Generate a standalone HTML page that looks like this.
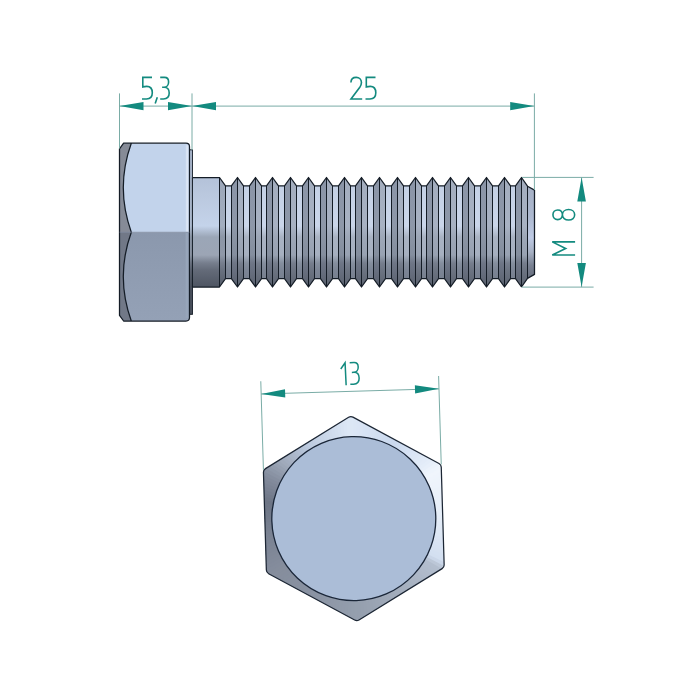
<!DOCTYPE html>
<html><head><meta charset="utf-8"><style>
html,body{margin:0;padding:0;background:#fff;width:700px;height:700px;overflow:hidden}
svg{display:block}
</style></head><body>
<svg width="700" height="700" viewBox="0 0 700 700">
<defs><linearGradient id="gShank" gradientUnits="userSpaceOnUse" x1="0" y1="177.5" x2="0" y2="287.0"><stop offset="0.0" stop-color="#b4c2d9"/><stop offset="0.1507" stop-color="#bac8de"/><stop offset="0.4429" stop-color="#c4d3ea"/><stop offset="0.5434" stop-color="#9ba6b7"/><stop offset="0.7078" stop-color="#9ca5b5"/><stop offset="0.7808" stop-color="#767e8d"/><stop offset="0.8447" stop-color="#646b79"/><stop offset="1.0" stop-color="#4e5562"/></linearGradient><linearGradient id="gRoot" gradientUnits="userSpaceOnUse" x1="0" y1="177.5" x2="0" y2="287.0"><stop offset="0.0" stop-color="#c0cde2"/><stop offset="0.1507" stop-color="#c6d2e6"/><stop offset="0.4429" stop-color="#cad6ea"/><stop offset="0.5434" stop-color="#a9b3c3"/><stop offset="0.7078" stop-color="#a6b0c0"/><stop offset="0.7808" stop-color="#858f9e"/><stop offset="0.8447" stop-color="#7c8595"/><stop offset="1.0" stop-color="#737c8a"/></linearGradient><linearGradient id="gLF" gradientUnits="userSpaceOnUse" x1="0" y1="177.5" x2="0" y2="287.0"><stop offset="0.0" stop-color="#8a94a6"/><stop offset="0.1507" stop-color="#8c96a8"/><stop offset="0.4429" stop-color="#8e98a9"/><stop offset="0.5434" stop-color="#8a94a4"/><stop offset="0.7078" stop-color="#848e9e"/><stop offset="0.7808" stop-color="#6e7686"/><stop offset="0.8447" stop-color="#687080"/><stop offset="1.0" stop-color="#5a616e"/></linearGradient><linearGradient id="gRF" gradientUnits="userSpaceOnUse" x1="0" y1="177.5" x2="0" y2="287.0"><stop offset="0.0" stop-color="#a2acbd"/><stop offset="0.1507" stop-color="#a5afc0"/><stop offset="0.4429" stop-color="#a8b2c3"/><stop offset="0.5434" stop-color="#9da7b7"/><stop offset="0.7078" stop-color="#98a2b2"/><stop offset="0.7808" stop-color="#767e8d"/><stop offset="0.8447" stop-color="#6c7482"/><stop offset="1.0" stop-color="#5c6370"/></linearGradient><linearGradient id="gEnd" gradientUnits="userSpaceOnUse" x1="0" y1="177.5" x2="0" y2="287.0"><stop offset="0" stop-color="#a3adc1"/><stop offset="0.35" stop-color="#adb9d0"/><stop offset="0.55" stop-color="#bfcbe5"/><stop offset="0.68" stop-color="#a7b1c4"/><stop offset="0.8" stop-color="#7a8293"/><stop offset="1" stop-color="#5a616e"/></linearGradient><linearGradient id="gCh" gradientUnits="userSpaceOnUse" x1="0" y1="177.5" x2="0" y2="287.0"><stop offset="0.0" stop-color="#9aa5b8"/><stop offset="0.1507" stop-color="#9ea9bb"/><stop offset="0.4429" stop-color="#a3aec0"/><stop offset="0.5434" stop-color="#8c96a6"/><stop offset="0.7078" stop-color="#8f98a8"/><stop offset="0.7808" stop-color="#767e8d"/><stop offset="0.8447" stop-color="#69717f"/><stop offset="1.0" stop-color="#555c69"/></linearGradient><clipPath id="cHead"><path d="M123.6,143.2 L186.0,143.2 Q189.5,143.2 189.5,146.7 L189.5,317.5 Q189.5,321.0 186.0,321.0 L123.6,321.0 L119.5,315.3 L119.5,148.8 Z"/></clipPath><linearGradient id="gLow" x1="0" y1="0" x2="0" y2="1"><stop offset="0" stop-color="#8b98ad"/><stop offset="1" stop-color="#94a1b6"/></linearGradient><linearGradient id="gHL" x1="0" y1="0" x2="1" y2="0"><stop offset="0" stop-color="#c2d3eb"/><stop offset="0.55" stop-color="#e0e9f7"/><stop offset="1" stop-color="#d0ddf0"/></linearGradient><clipPath id="cHex"><path d="M351.63,417.15 Q353.80,415.90 355.97,417.15 L440.58,466.00 Q442.74,467.25 442.74,469.75 L442.74,567.45 Q442.74,569.95 440.58,571.20 L355.97,620.05 Q353.80,621.30 351.63,620.05 L267.02,571.20 Q264.86,569.95 264.86,567.45 L264.86,469.75 Q264.86,467.25 267.02,466.00 Z"/></clipPath></defs>
<g clip-path="url(#cHead)"><rect x="119.5" y="143.2" width="70.0" height="89.0" fill="#c2d3eb"/><rect x="119.5" y="232.2" width="70.0" height="88.80000000000001" fill="url(#gLow)"/><rect x="185.2" y="145.2" width="3.4" height="87.0" fill="url(#gHL)"/><rect x="185.6" y="232.2" width="2.6" height="85.80000000000001" fill="#97a5ba"/><path d="M119.5,143.2 L131.3,143.2 Q115.3,187.5 131.3,232.2 L119.5,232.2 Z" fill="#868b97"/><path d="M119.5,232.2 L131.3,232.2 Q115.3,276.4 131.3,321.0 L119.5,321.0 Z" fill="#717887"/><path d="M0,0 L118.5,0 L118.5,323.0 Z" fill="none"/></g><rect x="189.5" y="149.8" width="2.9" height="164.5" fill="url(#gShank)" stroke="#141c26" stroke-width="1"/><rect x="192.4" y="177.5" width="27.099999999999994" height="109.5" fill="url(#gShank)"/><path d="M219.5,177.5 L225.5,185.9 L225.5,278.6 L219.5,287.0 Z" fill="url(#gCh)"/><rect x="225.50" y="185.9" width="5.90" height="92.70000000000002" fill="url(#gRoot)"/><path d="M231.50,185.9 L237.50,177.5 L237.50,287.0 L231.50,278.6 Z" fill="url(#gLF)"/><path d="M237.50,177.5 L243.50,185.9 L243.50,278.6 L237.50,287.0 Z" fill="url(#gRF)"/><rect x="243.50" y="185.9" width="6.00" height="92.70000000000002" fill="url(#gRoot)"/><path d="M249.50,185.9 L255.50,177.5 L255.50,287.0 L249.50,278.6 Z" fill="url(#gLF)"/><path d="M255.50,177.5 L261.50,185.9 L261.50,278.6 L255.50,287.0 Z" fill="url(#gRF)"/><rect x="261.50" y="185.9" width="5.00" height="92.70000000000002" fill="url(#gRoot)"/><path d="M266.50,185.9 L272.50,177.5 L272.50,287.0 L266.50,278.6 Z" fill="url(#gLF)"/><path d="M272.50,177.5 L278.50,185.9 L278.50,278.6 L272.50,287.0 Z" fill="url(#gRF)"/><rect x="278.50" y="185.9" width="6.00" height="92.70000000000002" fill="url(#gRoot)"/><path d="M284.50,185.9 L290.50,177.5 L290.50,287.0 L284.50,278.6 Z" fill="url(#gLF)"/><path d="M290.50,177.5 L296.50,185.9 L296.50,278.6 L290.50,287.0 Z" fill="url(#gRF)"/><rect x="296.50" y="185.9" width="6.00" height="92.70000000000002" fill="url(#gRoot)"/><path d="M302.50,185.9 L308.50,177.5 L308.50,287.0 L302.50,278.6 Z" fill="url(#gLF)"/><path d="M308.50,177.5 L314.50,185.9 L314.50,278.6 L308.50,287.0 Z" fill="url(#gRF)"/><rect x="314.50" y="185.9" width="6.00" height="92.70000000000002" fill="url(#gRoot)"/><path d="M320.50,185.9 L326.50,177.5 L326.50,287.0 L320.50,278.6 Z" fill="url(#gLF)"/><path d="M326.50,177.5 L332.50,185.9 L332.50,278.6 L326.50,287.0 Z" fill="url(#gRF)"/><rect x="332.50" y="185.9" width="6.00" height="92.70000000000002" fill="url(#gRoot)"/><path d="M338.50,185.9 L344.50,177.5 L344.50,287.0 L338.50,278.6 Z" fill="url(#gLF)"/><path d="M344.50,177.5 L350.50,185.9 L350.50,278.6 L344.50,287.0 Z" fill="url(#gRF)"/><rect x="350.50" y="185.9" width="5.00" height="92.70000000000002" fill="url(#gRoot)"/><path d="M355.50,185.9 L361.50,177.5 L361.50,287.0 L355.50,278.6 Z" fill="url(#gLF)"/><path d="M361.50,177.5 L367.50,185.9 L367.50,278.6 L361.50,287.0 Z" fill="url(#gRF)"/><rect x="367.50" y="185.9" width="6.00" height="92.70000000000002" fill="url(#gRoot)"/><path d="M373.50,185.9 L379.50,177.5 L379.50,287.0 L373.50,278.6 Z" fill="url(#gLF)"/><path d="M379.50,177.5 L385.50,185.9 L385.50,278.6 L379.50,287.0 Z" fill="url(#gRF)"/><rect x="385.50" y="185.9" width="6.00" height="92.70000000000002" fill="url(#gRoot)"/><path d="M391.50,185.9 L397.50,177.5 L397.50,287.0 L391.50,278.6 Z" fill="url(#gLF)"/><path d="M397.50,177.5 L403.50,185.9 L403.50,278.6 L397.50,287.0 Z" fill="url(#gRF)"/><rect x="403.50" y="185.9" width="6.00" height="92.70000000000002" fill="url(#gRoot)"/><path d="M409.50,185.9 L415.50,177.5 L415.50,287.0 L409.50,278.6 Z" fill="url(#gLF)"/><path d="M415.50,177.5 L421.50,185.9 L421.50,278.6 L415.50,287.0 Z" fill="url(#gRF)"/><rect x="421.50" y="185.9" width="5.00" height="92.70000000000002" fill="url(#gRoot)"/><path d="M426.50,185.9 L432.50,177.5 L432.50,287.0 L426.50,278.6 Z" fill="url(#gLF)"/><path d="M432.50,177.5 L438.50,185.9 L438.50,278.6 L432.50,287.0 Z" fill="url(#gRF)"/><rect x="438.50" y="185.9" width="6.00" height="92.70000000000002" fill="url(#gRoot)"/><path d="M444.50,185.9 L450.50,177.5 L450.50,287.0 L444.50,278.6 Z" fill="url(#gLF)"/><path d="M450.50,177.5 L456.50,185.9 L456.50,278.6 L450.50,287.0 Z" fill="url(#gRF)"/><rect x="456.50" y="185.9" width="6.00" height="92.70000000000002" fill="url(#gRoot)"/><path d="M462.50,185.9 L468.50,177.5 L468.50,287.0 L462.50,278.6 Z" fill="url(#gLF)"/><path d="M468.50,177.5 L474.50,185.9 L474.50,278.6 L468.50,287.0 Z" fill="url(#gRF)"/><rect x="474.50" y="185.9" width="6.00" height="92.70000000000002" fill="url(#gRoot)"/><path d="M480.50,185.9 L486.50,177.5 L486.50,287.0 L480.50,278.6 Z" fill="url(#gLF)"/><path d="M486.50,177.5 L492.50,185.9 L492.50,278.6 L486.50,287.0 Z" fill="url(#gRF)"/><rect x="492.50" y="185.9" width="6.00" height="92.70000000000002" fill="url(#gRoot)"/><path d="M498.50,185.9 L504.50,177.5 L504.50,287.0 L498.50,278.6 Z" fill="url(#gLF)"/><path d="M504.50,177.5 L510.50,185.9 L510.50,278.6 L504.50,287.0 Z" fill="url(#gRF)"/><rect x="510.50" y="185.9" width="5.00" height="92.70000000000002" fill="url(#gRoot)"/><path d="M515.50,185.9 L521.50,177.5 L521.50,287.0 L515.50,278.6 Z" fill="url(#gLF)"/><path d="M521.50,177.5 L527.5,186.2 L534.5,190.1 L534.5,274.4 L527.5,278.4 L521.50,287.0 Z" fill="url(#gRF)"/><path d="M527.5,186.2 L534.5,190.1 L534.5,274.4 L527.5,278.4 Z" fill="url(#gEnd)"/><path d="M192.40,177.5 L192.40,287.0 M219.50,177.5 L219.50,287.0 M225.50,185.9 L225.50,278.6 M231.50,185.9 L231.50,278.6 M237.50,177.5 L237.50,287.0 M243.50,185.9 L243.50,278.6 M249.50,185.9 L249.50,278.6 M255.50,177.5 L255.50,287.0 M261.50,185.9 L261.50,278.6 M266.50,185.9 L266.50,278.6 M272.50,177.5 L272.50,287.0 M278.50,185.9 L278.50,278.6 M284.50,185.9 L284.50,278.6 M290.50,177.5 L290.50,287.0 M296.50,185.9 L296.50,278.6 M302.50,185.9 L302.50,278.6 M308.50,177.5 L308.50,287.0 M314.50,185.9 L314.50,278.6 M320.50,185.9 L320.50,278.6 M326.50,177.5 L326.50,287.0 M332.50,185.9 L332.50,278.6 M338.50,185.9 L338.50,278.6 M344.50,177.5 L344.50,287.0 M350.50,185.9 L350.50,278.6 M355.50,185.9 L355.50,278.6 M361.50,177.5 L361.50,287.0 M367.50,185.9 L367.50,278.6 M373.50,185.9 L373.50,278.6 M379.50,177.5 L379.50,287.0 M385.50,185.9 L385.50,278.6 M391.50,185.9 L391.50,278.6 M397.50,177.5 L397.50,287.0 M403.50,185.9 L403.50,278.6 M409.50,185.9 L409.50,278.6 M415.50,177.5 L415.50,287.0 M421.50,185.9 L421.50,278.6 M426.50,185.9 L426.50,278.6 M432.50,177.5 L432.50,287.0 M438.50,185.9 L438.50,278.6 M444.50,185.9 L444.50,278.6 M450.50,177.5 L450.50,287.0 M456.50,185.9 L456.50,278.6 M462.50,185.9 L462.50,278.6 M468.50,177.5 L468.50,287.0 M474.50,185.9 L474.50,278.6 M480.50,185.9 L480.50,278.6 M486.50,177.5 L486.50,287.0 M492.50,185.9 L492.50,278.6 M498.50,185.9 L498.50,278.6 M504.50,177.5 L504.50,287.0 M510.50,185.9 L510.50,278.6 M515.50,185.9 L515.50,278.6 M521.50,177.5 L521.50,287.0 M527.50,185.9 L527.50,278.6 " fill="none" stroke="#141c26" stroke-width="1.0"/><path d="M123.6,143.2 L186.0,143.2 Q189.5,143.2 189.5,146.7 L189.5,317.5 Q189.5,321.0 186.0,321.0 L123.6,321.0 L119.5,315.3 L119.5,148.8 Z M131.3,143.2 Q115.3,187.5 131.3,232.2 Q115.3,276.4 131.3,321.0 M192.4,177.5 L219.5,177.5 L225.5,185.9 L231.40,185.9 L237.50,177.5 L243.50,185.9 L249.50,185.9 L255.50,177.5 L261.50,185.9 L266.50,185.9 L272.50,177.5 L278.50,185.9 L284.50,185.9 L290.50,177.5 L296.50,185.9 L302.50,185.9 L308.50,177.5 L314.50,185.9 L320.50,185.9 L326.50,177.5 L332.50,185.9 L338.50,185.9 L344.50,177.5 L350.50,185.9 L355.50,185.9 L361.50,177.5 L367.50,185.9 L373.50,185.9 L379.50,177.5 L385.50,185.9 L391.50,185.9 L397.50,177.5 L403.50,185.9 L409.50,185.9 L415.50,177.5 L421.50,185.9 L426.50,185.9 L432.50,177.5 L438.50,185.9 L444.50,185.9 L450.50,177.5 L456.50,185.9 L462.50,185.9 L468.50,177.5 L474.50,185.9 L480.50,185.9 L486.50,177.5 L492.50,185.9 L498.50,185.9 L504.50,177.5 L510.50,185.9 L515.50,185.9 L521.50,177.5 L527.5,186.2 L534.5,190.1 L534.5,274.4 L527.5,278.4 L521.50,287.0 M192.4,287.0 L219.5,287.0 L225.5,278.6 L231.40,278.6 L237.50,287.0 L243.50,278.6 L249.50,278.6 L255.50,287.0 L261.50,278.6 L266.50,278.6 L272.50,287.0 L278.50,278.6 L284.50,278.6 L290.50,287.0 L296.50,278.6 L302.50,278.6 L308.50,287.0 L314.50,278.6 L320.50,278.6 L326.50,287.0 L332.50,278.6 L338.50,278.6 L344.50,287.0 L350.50,278.6 L355.50,278.6 L361.50,287.0 L367.50,278.6 L373.50,278.6 L379.50,287.0 L385.50,278.6 L391.50,278.6 L397.50,287.0 L403.50,278.6 L409.50,278.6 L415.50,287.0 L421.50,278.6 L426.50,278.6 L432.50,287.0 L438.50,278.6 L444.50,278.6 L450.50,287.0 L456.50,278.6 L462.50,278.6 L468.50,287.0 L474.50,278.6 L480.50,278.6 L486.50,287.0 L492.50,278.6 L498.50,278.6 L504.50,287.0 L510.50,278.6 L515.50,278.6 L521.50,287.0" fill="none" stroke="#141c26" stroke-width="1.25" stroke-linejoin="round"/><line x1="119.5" y1="232.2" x2="189.5" y2="232.2" stroke="#7d8aa0" stroke-width="0.6"/><path d="M119.5,93.4 L119.5,148.5 M192,93.4 L192,150 M534.4,93.4 L534.4,190 M119.5,106.1 L534.4,106.1 M522,177.4 L593.6,177.4 M522,287.1 L593.6,287.1 M581.6,177.4 L581.6,287.1" fill="none" stroke="#7aaca6" stroke-width="1"/><path d="M119.5,106.1 L143.5,102.0 L143.5,110.19999999999999 Z M192,106.1 L168,102.0 L168,110.19999999999999 Z M192,106.1 L216,102.0 L216,110.19999999999999 Z M534.2,106.1 L510.20000000000005,102.0 L510.20000000000005,110.19999999999999 Z M581.6,177.4 L577.3000000000001,201.4 L585.9,201.4 Z M581.6,287.1 L577.3000000000001,263.1 L585.9,263.1 Z " fill="#138a7f"/><g fill="none" stroke="#138a7f" stroke-width="1.6"><path d="M10.3,0.75 L1.1,0.75 L1.1,10.3 C2.5,9.95 3.6,9.8 5,9.8 C8.6,9.8 10.6,12.5 10.6,16.2 C10.6,20 8.3,22.45 4.8,22.45 L0.3,22.45" transform="translate(141.7,76.6)" /><path d="M2.1,0 L0,6.2" transform="translate(155.2,97.2)" /><path d="M0.3,0.8 L4.6,0.8 C7.1,0.8 8.7,2.6 8.7,5.3 C8.7,8.3 6.9,10.6 4,10.6 L2.2,10.6 L4.2,10.6 C7.4,10.6 9.3,13.1 9.3,16.5 C9.3,20.2 7,22.45 3.5,22.45 L0.3,22.45" transform="translate(159.9,76.6)" /><path d="M0.8,5.8 C0.9,2.6 3.2,0.75 6.1,0.75 C9.1,0.75 11.35,2.9 11.35,6 C11.35,8 10.6,9.4 9.7,10.7 L0.9,22.45 L12.1,22.45" transform="translate(350.1,76.6)" /><path d="M10.3,0.75 L1.1,0.75 L1.1,10.3 C2.5,9.95 3.6,9.8 5,9.8 C8.6,9.8 10.6,12.5 10.6,16.2 C10.6,20 8.3,22.45 4.8,22.45 L0.3,22.45" transform="translate(365.2,76.6)" /><path d="M0.75,23.6 L0.75,0.75 L7.35,14.2 L13.95,0.75 L13.95,23.6" transform="translate(551.5,255.8) rotate(-90)"/><path d="M6,10.2 C3.3,10.2 1.2,8.4 1.2,5.5 C1.2,2.6 3.3,0.75 6,0.75 C8.7,0.75 10.8,2.6 10.8,5.5 C10.8,8.4 8.7,10.2 6,10.2 C2.9,10.2 0.75,12.8 0.75,16.4 C0.75,20.1 3,22.45 6,22.45 C9,22.45 11.25,20.1 11.25,16.4 C11.25,12.8 9.1,10.2 6,10.2 Z" transform="translate(552.2,220.8) rotate(-90)"/></g><g transform="rotate(-1.7 353.8 518.6)"><g clip-path="url(#cHex)"><path d="M353.8,518.6 L352.4,388.6 L359.7,388.7Z" fill="#dce7f6"/><path d="M353.8,518.6 L357.0,388.6 L364.2,389.0Z" fill="#dbe6f5"/><path d="M353.8,518.6 L361.5,388.8 L368.7,389.5Z" fill="#dae5f5"/><path d="M353.8,518.6 L366.0,389.2 L373.2,390.1Z" fill="#d9e4f4"/><path d="M353.8,518.6 L370.5,389.7 L377.7,390.8Z" fill="#d7e3f4"/><path d="M353.8,518.6 L375.0,390.3 L382.2,391.7Z" fill="#d6e2f3"/><path d="M353.8,518.6 L379.5,391.2 L386.6,392.8Z" fill="#d5e1f3"/><path d="M353.8,518.6 L383.9,392.1 L390.9,394.0Z" fill="#d4e0f2"/><path d="M353.8,518.6 L388.3,393.3 L395.3,395.4Z" fill="#d2dff1"/><path d="M353.8,518.6 L392.7,394.5 L399.5,396.9Z" fill="#d1def1"/><path d="M353.8,518.6 L397.0,396.0 L403.8,398.6Z" fill="#d0ddf0"/><path d="M353.8,518.6 L401.2,397.6 L407.9,400.4Z" fill="#cedcf0"/><path d="M353.8,518.6 L405.4,399.3 L412.0,402.4Z" fill="#cddbef"/><path d="M353.8,518.6 L409.6,401.2 L416.0,404.5Z" fill="#ccdaef"/><path d="M353.8,518.6 L413.6,403.2 L420.0,406.7Z" fill="#cbd9ee"/><path d="M353.8,518.6 L417.6,405.3 L423.8,409.1Z" fill="#cbd9ee"/><path d="M353.8,518.6 L421.5,407.6 L427.6,411.6Z" fill="#cddbef"/><path d="M353.8,518.6 L425.4,410.1 L431.3,414.2Z" fill="#cfdcf0"/><path d="M353.8,518.6 L429.1,412.6 L434.9,417.0Z" fill="#d1def1"/><path d="M353.8,518.6 L432.8,415.3 L438.4,419.9Z" fill="#d3e0f2"/><path d="M353.8,518.6 L436.3,418.1 L441.8,422.9Z" fill="#d5e1f3"/><path d="M353.8,518.6 L439.8,421.1 L445.1,426.0Z" fill="#d8e3f4"/><path d="M353.8,518.6 L443.1,424.1 L448.3,429.3Z" fill="#dae5f5"/><path d="M353.8,518.6 L446.4,427.3 L451.3,432.6Z" fill="#dce6f5"/><path d="M353.8,518.6 L449.5,430.6 L454.3,436.1Z" fill="#dee8f6"/><path d="M353.8,518.6 L452.5,434.0 L457.1,439.6Z" fill="#e0eaf7"/><path d="M353.8,518.6 L455.4,437.5 L459.8,443.3Z" fill="#e2ebf8"/><path d="M353.8,518.6 L458.2,441.1 L462.3,447.0Z" fill="#e4edf9"/><path d="M353.8,518.6 L460.8,444.8 L464.8,450.9Z" fill="#e7effa"/><path d="M353.8,518.6 L463.3,448.6 L467.1,454.8Z" fill="#ebf2fb"/><path d="M353.8,518.6 L465.7,452.4 L469.2,458.8Z" fill="#eef4fc"/><path d="M353.8,518.6 L467.9,456.4 L471.2,462.8Z" fill="#f0f5fc"/><path d="M353.8,518.6 L470.0,460.4 L473.1,467.0Z" fill="#eff4fc"/><path d="M353.8,518.6 L472.0,464.5 L474.8,471.2Z" fill="#eef4fb"/><path d="M353.8,518.6 L473.8,468.6 L476.4,475.4Z" fill="#eef3fb"/><path d="M353.8,518.6 L475.5,472.9 L477.9,479.7Z" fill="#edf3fb"/><path d="M353.8,518.6 L477.0,477.1 L479.1,484.1Z" fill="#ecf2fa"/><path d="M353.8,518.6 L478.4,481.5 L480.3,488.5Z" fill="#ebf2fa"/><path d="M353.8,518.6 L479.6,485.8 L481.2,492.9Z" fill="#ebf1fa"/><path d="M353.8,518.6 L480.7,490.2 L482.1,497.4Z" fill="#eaf1fa"/><path d="M353.8,518.6 L481.6,494.7 L482.7,501.9Z" fill="#e9f0f9"/><path d="M353.8,518.6 L482.3,499.2 L483.2,506.4Z" fill="#e8f0f9"/><path d="M353.8,518.6 L482.9,503.7 L483.6,510.9Z" fill="#e8eff9"/><path d="M353.8,518.6 L483.4,508.2 L483.8,515.4Z" fill="#e7eff8"/><path d="M353.8,518.6 L483.7,512.7 L483.8,520.0Z" fill="#e6eef8"/><path d="M353.8,518.6 L483.8,517.2 L483.7,524.5Z" fill="#e5edf8"/><path d="M353.8,518.6 L483.8,521.8 L483.4,529.0Z" fill="#e4ecf7"/><path d="M353.8,518.6 L483.6,526.3 L482.9,533.5Z" fill="#e2ebf7"/><path d="M353.8,518.6 L483.2,530.8 L482.3,538.0Z" fill="#e1eaf6"/><path d="M353.8,518.6 L482.7,535.3 L481.6,542.5Z" fill="#e0e9f5"/><path d="M353.8,518.6 L482.1,539.8 L480.7,547.0Z" fill="#dee8f5"/><path d="M353.8,518.6 L481.2,544.3 L479.6,551.4Z" fill="#dde7f4"/><path d="M353.8,518.6 L480.3,548.7 L478.4,555.7Z" fill="#dbe5f4"/><path d="M353.8,518.6 L479.1,553.1 L477.0,560.1Z" fill="#dae4f3"/><path d="M353.8,518.6 L477.9,557.5 L475.5,564.3Z" fill="#d8e3f3"/><path d="M353.8,518.6 L476.4,561.8 L473.8,568.6Z" fill="#d7e2f2"/><path d="M353.8,518.6 L474.8,566.0 L472.0,572.7Z" fill="#d6e1f1"/><path d="M353.8,518.6 L473.1,570.2 L470.0,576.8Z" fill="#d4e0f1"/><path d="M353.8,518.6 L471.2,574.4 L467.9,580.8Z" fill="#d3dff0"/><path d="M353.8,518.6 L469.2,578.4 L465.7,584.8Z" fill="#cad6e8"/><path d="M353.8,518.6 L467.1,582.4 L463.3,588.6Z" fill="#bcc7d7"/><path d="M353.8,518.6 L464.8,586.3 L460.8,592.4Z" fill="#b3bece"/><path d="M353.8,518.6 L462.3,590.2 L458.2,596.1Z" fill="#b2bdcd"/><path d="M353.8,518.6 L459.8,593.9 L455.4,599.7Z" fill="#b1bccc"/><path d="M353.8,518.6 L457.1,597.6 L452.5,603.2Z" fill="#b0baca"/><path d="M353.8,518.6 L454.3,601.1 L449.5,606.6Z" fill="#afb9c9"/><path d="M353.8,518.6 L451.3,604.6 L446.4,609.9Z" fill="#adb8c8"/><path d="M353.8,518.6 L448.3,607.9 L443.1,613.1Z" fill="#acb7c6"/><path d="M353.8,518.6 L445.1,611.2 L439.8,616.1Z" fill="#abb5c5"/><path d="M353.8,518.6 L441.8,614.3 L436.3,619.1Z" fill="#aab4c3"/><path d="M353.8,518.6 L438.4,617.3 L432.8,621.9Z" fill="#a8b3c2"/><path d="M353.8,518.6 L434.9,620.2 L429.1,624.6Z" fill="#a7b2c1"/><path d="M353.8,518.6 L431.3,623.0 L425.4,627.1Z" fill="#a6b0bf"/><path d="M353.8,518.6 L427.6,625.6 L421.5,629.6Z" fill="#a5afbe"/><path d="M353.8,518.6 L423.8,628.1 L417.6,631.9Z" fill="#a4aebd"/><path d="M353.8,518.6 L420.0,630.5 L413.6,634.0Z" fill="#a3adbc"/><path d="M353.8,518.6 L416.0,632.7 L409.6,636.0Z" fill="#a2acbb"/><path d="M353.8,518.6 L412.0,634.8 L405.4,637.9Z" fill="#a1abba"/><path d="M353.8,518.6 L407.9,636.8 L401.2,639.6Z" fill="#a0aab9"/><path d="M353.8,518.6 L403.8,638.6 L397.0,641.2Z" fill="#9fa9b8"/><path d="M353.8,518.6 L399.5,640.3 L392.7,642.7Z" fill="#9ea8b7"/><path d="M353.8,518.6 L395.3,641.8 L388.3,643.9Z" fill="#9da7b6"/><path d="M353.8,518.6 L390.9,643.2 L383.9,645.1Z" fill="#9ca6b5"/><path d="M353.8,518.6 L386.6,644.4 L379.5,646.0Z" fill="#9ba5b4"/><path d="M353.8,518.6 L382.2,645.5 L375.0,646.9Z" fill="#9aa4b3"/><path d="M353.8,518.6 L377.7,646.4 L370.5,647.5Z" fill="#99a3b2"/><path d="M353.8,518.6 L373.2,647.1 L366.0,648.0Z" fill="#98a2b1"/><path d="M353.8,518.6 L368.7,647.7 L361.5,648.4Z" fill="#97a1b0"/><path d="M353.8,518.6 L364.2,648.2 L357.0,648.6Z" fill="#96a0af"/><path d="M353.8,518.6 L359.7,648.5 L352.4,648.6Z" fill="#959fae"/><path d="M353.8,518.6 L355.2,648.6 L347.9,648.5Z" fill="#959fae"/><path d="M353.8,518.6 L350.6,648.6 L343.4,648.2Z" fill="#949ead"/><path d="M353.8,518.6 L346.1,648.4 L338.9,647.7Z" fill="#939dac"/><path d="M353.8,518.6 L341.6,648.0 L334.4,647.1Z" fill="#929cab"/><path d="M353.8,518.6 L337.1,647.5 L329.9,646.4Z" fill="#929bab"/><path d="M353.8,518.6 L332.6,646.9 L325.4,645.5Z" fill="#919baa"/><path d="M353.8,518.6 L328.1,646.0 L321.0,644.4Z" fill="#909aa9"/><path d="M353.8,518.6 L323.7,645.1 L316.7,643.2Z" fill="#9099a8"/><path d="M353.8,518.6 L319.3,643.9 L312.3,641.8Z" fill="#8f98a8"/><path d="M353.8,518.6 L314.9,642.7 L308.1,640.3Z" fill="#8e97a7"/><path d="M353.8,518.6 L310.6,641.2 L303.8,638.6Z" fill="#8d97a6"/><path d="M353.8,518.6 L306.4,639.6 L299.7,636.8Z" fill="#8d96a6"/><path d="M353.8,518.6 L302.2,637.9 L295.6,634.8Z" fill="#8c95a5"/><path d="M353.8,518.6 L298.0,636.0 L291.6,632.7Z" fill="#8b94a4"/><path d="M353.8,518.6 L294.0,634.0 L287.6,630.5Z" fill="#8a93a3"/><path d="M353.8,518.6 L290.0,631.9 L283.8,628.1Z" fill="#8a93a3"/><path d="M353.8,518.6 L286.1,629.6 L280.0,625.6Z" fill="#8a92a2"/><path d="M353.8,518.6 L282.2,627.1 L276.3,623.0Z" fill="#8992a2"/><path d="M353.8,518.6 L278.5,624.6 L272.7,620.2Z" fill="#8992a1"/><path d="M353.8,518.6 L274.8,621.9 L269.2,617.3Z" fill="#8891a1"/><path d="M353.8,518.6 L271.3,619.1 L265.8,614.3Z" fill="#8891a0"/><path d="M353.8,518.6 L267.8,616.1 L262.5,611.2Z" fill="#8890a0"/><path d="M353.8,518.6 L264.5,613.1 L259.3,607.9Z" fill="#8890a0"/><path d="M353.8,518.6 L261.2,609.9 L256.3,604.6Z" fill="#87909f"/><path d="M353.8,518.6 L258.1,606.6 L253.3,601.1Z" fill="#878f9f"/><path d="M353.8,518.6 L255.1,603.2 L250.5,597.6Z" fill="#868f9e"/><path d="M353.8,518.6 L252.2,599.7 L247.8,593.9Z" fill="#868e9e"/><path d="M353.8,518.6 L249.4,596.1 L245.3,590.2Z" fill="#868e9d"/><path d="M353.8,518.6 L246.8,592.4 L242.8,586.3Z" fill="#868e9d"/><path d="M353.8,518.6 L244.3,588.6 L240.5,582.4Z" fill="#858d9c"/><path d="M353.8,518.6 L241.9,584.8 L238.4,578.4Z" fill="#848c9c"/><path d="M353.8,518.6 L239.7,580.8 L236.4,574.4Z" fill="#838b9b"/><path d="M353.8,518.6 L237.6,576.8 L234.5,570.2Z" fill="#828a9a"/><path d="M353.8,518.6 L235.6,572.7 L232.8,566.0Z" fill="#818999"/><path d="M353.8,518.6 L233.8,568.6 L231.2,561.8Z" fill="#808898"/><path d="M353.8,518.6 L232.1,564.3 L229.7,557.5Z" fill="#7f8797"/><path d="M353.8,518.6 L230.6,560.1 L228.5,553.1Z" fill="#7e8696"/><path d="M353.8,518.6 L229.2,555.7 L227.3,548.7Z" fill="#7d8595"/><path d="M353.8,518.6 L228.0,551.4 L226.4,544.3Z" fill="#7c8494"/><path d="M353.8,518.6 L226.9,547.0 L225.5,539.8Z" fill="#7b8393"/><path d="M353.8,518.6 L226.0,542.5 L224.9,535.3Z" fill="#7a8292"/><path d="M353.8,518.6 L225.3,538.0 L224.4,530.8Z" fill="#798191"/><path d="M353.8,518.6 L224.7,533.5 L224.0,526.3Z" fill="#788090"/><path d="M353.8,518.6 L224.2,529.0 L223.8,521.8Z" fill="#777f8f"/><path d="M353.8,518.6 L223.9,524.5 L223.8,517.2Z" fill="#767e8e"/><path d="M353.8,518.6 L223.8,520.0 L223.9,512.7Z" fill="#747c8c"/><path d="M353.8,518.6 L223.8,515.4 L224.2,508.2Z" fill="#737b8b"/><path d="M353.8,518.6 L224.0,510.9 L224.7,503.7Z" fill="#727a8a"/><path d="M353.8,518.6 L224.4,506.4 L225.3,499.2Z" fill="#717989"/><path d="M353.8,518.6 L224.9,501.9 L226.0,494.7Z" fill="#6f7787"/><path d="M353.8,518.6 L225.5,497.4 L226.9,490.2Z" fill="#6e7686"/><path d="M353.8,518.6 L226.4,492.9 L228.0,485.8Z" fill="#6d7585"/><path d="M353.8,518.6 L227.3,488.5 L229.2,481.5Z" fill="#707888"/><path d="M353.8,518.6 L228.5,484.1 L230.6,477.1Z" fill="#737b8b"/><path d="M353.8,518.6 L229.7,479.7 L232.1,472.9Z" fill="#767e8f"/><path d="M353.8,518.6 L231.2,475.4 L233.8,468.6Z" fill="#798192"/><path d="M353.8,518.6 L232.8,471.2 L235.6,464.5Z" fill="#7c8495"/><path d="M353.8,518.6 L234.5,467.0 L237.6,460.4Z" fill="#7f8798"/><path d="M353.8,518.6 L236.4,462.8 L239.7,456.4Z" fill="#828a9b"/><path d="M353.8,518.6 L238.4,458.8 L241.9,452.4Z" fill="#858e9f"/><path d="M353.8,518.6 L240.5,454.8 L244.3,448.6Z" fill="#8a93a4"/><path d="M353.8,518.6 L242.8,450.9 L246.8,444.8Z" fill="#8e98a9"/><path d="M353.8,518.6 L245.3,447.0 L249.4,441.1Z" fill="#939cad"/><path d="M353.8,518.6 L247.8,443.3 L252.2,437.5Z" fill="#97a1b2"/><path d="M353.8,518.6 L250.5,439.6 L255.1,434.0Z" fill="#9ca6b7"/><path d="M353.8,518.6 L253.3,436.1 L258.1,430.6Z" fill="#a0aabb"/><path d="M353.8,518.6 L256.3,432.6 L261.2,427.3Z" fill="#a2adbf"/><path d="M353.8,518.6 L259.3,429.3 L264.5,424.1Z" fill="#a6b0c2"/><path d="M353.8,518.6 L262.5,426.0 L267.8,421.1Z" fill="#a8b4c6"/><path d="M353.8,518.6 L265.8,422.9 L271.3,418.1Z" fill="#acb7ca"/><path d="M353.8,518.6 L269.2,419.9 L274.8,415.3Z" fill="#aebbce"/><path d="M353.8,518.6 L272.7,417.0 L278.5,412.6Z" fill="#b2bed2"/><path d="M353.8,518.6 L276.3,414.2 L282.2,410.1Z" fill="#b4c2d6"/><path d="M353.8,518.6 L280.0,411.6 L286.1,407.6Z" fill="#b8c5d9"/><path d="M353.8,518.6 L283.8,409.1 L290.0,405.3Z" fill="#bac8dd"/><path d="M353.8,518.6 L287.6,406.7 L294.0,403.2Z" fill="#bdcbe0"/><path d="M353.8,518.6 L291.6,404.5 L298.0,401.2Z" fill="#bfcde1"/><path d="M353.8,518.6 L295.6,402.4 L302.2,399.3Z" fill="#c2cfe3"/><path d="M353.8,518.6 L299.7,400.4 L306.4,397.6Z" fill="#c4d1e4"/><path d="M353.8,518.6 L303.8,398.6 L310.6,396.0Z" fill="#c6d3e6"/><path d="M353.8,518.6 L308.1,396.9 L314.9,394.5Z" fill="#c8d5e7"/><path d="M353.8,518.6 L312.3,395.4 L319.3,393.3Z" fill="#cad7e9"/><path d="M353.8,518.6 L316.7,394.0 L323.7,392.1Z" fill="#ccd9ea"/><path d="M353.8,518.6 L321.0,392.8 L328.1,391.2Z" fill="#cfdbec"/><path d="M353.8,518.6 L325.4,391.7 L332.6,390.3Z" fill="#d1ddee"/><path d="M353.8,518.6 L329.9,390.8 L337.1,389.7Z" fill="#d3dfef"/><path d="M353.8,518.6 L334.4,390.1 L341.6,389.2Z" fill="#d5e1f1"/><path d="M353.8,518.6 L338.9,389.5 L346.1,388.8Z" fill="#d8e3f2"/><path d="M353.8,518.6 L343.4,389.0 L350.6,388.6Z" fill="#dae5f4"/><path d="M353.8,518.6 L347.9,388.7 L355.2,388.6Z" fill="#dce7f5"/></g><path d="M351.63,417.15 Q353.80,415.90 355.97,417.15 L440.58,466.00 Q442.74,467.25 442.74,469.75 L442.74,567.45 Q442.74,569.95 440.58,571.20 L355.97,620.05 Q353.80,621.30 351.63,620.05 L267.02,571.20 Q264.86,569.95 264.86,567.45 L264.86,469.75 Q264.86,467.25 267.02,466.00 Z" fill="none" stroke="#1c2634" stroke-width="1.25" stroke-linejoin="round"/><circle cx="353.8" cy="518.6" r="82.0" fill="#abbdd7" stroke="#1a2638" stroke-width="1.3"/><path d="M264.9,378.5 L264.9,467 M442.8,378.5 L442.8,467 M264.9,391.3 L442.8,391.3" fill="none" stroke="#7aaca6" stroke-width="1"/><path d="M264.9,391.3 L288.9,387.2 L288.9,395.40000000000003 Z M442.8,391.3 L418.8,387.2 L418.8,395.40000000000003 Z " fill="#138a7f"/><g fill="none" stroke="#138a7f" stroke-width="1.5"><path d="M0.8,6.9 L5.3,0.8 L5.7,23.2" transform="translate(344.4,361.8)" /><path d="M0.3,0.8 L4.6,0.8 C7.1,0.8 8.7,2.6 8.7,5.3 C8.7,8.3 6.9,10.6 4,10.6 L2.2,10.6 L4.2,10.6 C7.4,10.6 9.3,13.1 9.3,16.5 C9.3,20.2 7,22.45 3.5,22.45 L0.3,22.45" transform="translate(354.0,361.8)" /></g></g>
</svg>
</body></html>
